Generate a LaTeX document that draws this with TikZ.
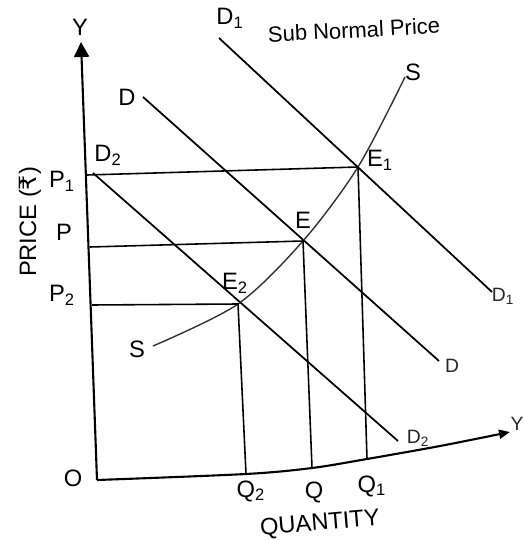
\documentclass[tikz,border=0pt]{standalone}
\usepackage{fontspec}
\setmainfont{Liberation Sans}
\newfontfamily\rupeefont{DejaVu Sans}
\usetikzlibrary{arrows.meta}

\tikzset{
  axisline/.style={line width=1.2pt},
  demandline/.style={line width=1pt},
  guideline/.style={line width=0.9pt},
  supplyline/.style={line width=0.8pt, black!80},
  lbl/.style={font=\fontsize{13.5}{15}\selectfont, inner sep=1pt},
  endlbl/.style={font=\fontsize{11}{13}\selectfont, inner sep=1pt, black!85},
}

\begin{document}
\begin{tikzpicture}[x=0.02cm, y=-0.02cm]
    \useasboundingbox (0,0) rectangle (523,540);

    % Points
    \coordinate (O) at (97,480);
    \coordinate (ytop) at (81,42);
    \coordinate (Q2) at (246,474);
    \coordinate (Q) at (312,468);
    \coordinate (Q1) at (367,459);
    \coordinate (xend) at (510,432);
    \coordinate (P1) at (87,175);
    \coordinate (P) at (90,247);
    \coordinate (P2) at (92,305);
    \coordinate (E1) at (358,167);
    \coordinate (E) at (303,241);
    \coordinate (E2) at (238,304);
    \coordinate (sLow) at (153,346);
    \coordinate (sHigh) at (405,77);
    \coordinate (d1Top) at (219,38);
    \coordinate (d1Bot) at (492,292);
    \coordinate (dTop) at (143,97);
    \coordinate (dBot) at (439,361);
    \coordinate (d2Top) at (93,173);
    \coordinate (d2Bot) at (398,441);

    % Axes
    \draw[axisline, -{Triangle[length=0.3cm, width=0.3cm]}] (O) -- (ytop);
    \draw[axisline, -{Triangle[length=0.22cm, width=0.18cm]}] plot[smooth] coordinates {(O) (Q2) (Q) (Q1) (440,446) (xend)};

    % Demand curves
    \draw[demandline] (d1Top) -- (d1Bot);
    \draw[demandline] (dTop) -- (dBot);
    \draw[demandline] (d2Top) -- (d2Bot);

    % Supply curve
    \draw[supplyline] plot[smooth] coordinates {(sLow) (E2) (E) (E1) (sHigh)};

    % Price and quantity lines
    \draw[guideline] (P1) -- (E1) -- (Q1);
    \draw[guideline] (P) -- (E) -- (Q);
    \draw[guideline] (P2) -- (E2) -- (Q2);

    % Labels
    \node[lbl] (lblY) at (80,27) {Y};
    \node[endlbl] (lblX) at (517,424) {Y};
    \node[lbl] (lblO) at (73,478) {O};
    \node[lbl] (lblP1) at (62,181) {P\textsubscript{1}};
    \node[lbl] (lblP) at (64,232) {P};
    \node[lbl] (lblP2) at (62,295) {P\textsubscript{2}};
    \node[lbl] (lblQ2) at (251,491) {Q\textsubscript{2}};
    \node[lbl] (lblQ) at (314,492) {Q};
    \node[lbl] (lblQ1) at (372,486) {Q\textsubscript{1}};
    \node[lbl] (lblE1) at (380,160) {E\textsubscript{1}};
    \node[lbl] (lblE) at (303,220) {E};
    \node[lbl] (lblE2) at (235,283) {E\textsubscript{2}};
    \node[lbl] (lblS1) at (137,349) {S};
    \node[lbl] (lblS2) at (413,72) {S};
    \node[lbl] (lblD1) at (230,18) {D\textsubscript{1}};
    \node[lbl] (lblD) at (127,97) {D};
    \node[lbl] (lblD2) at (108,155) {D\textsubscript{2}};
    \node[endlbl] (lblD1b) at (503,296) {D\textsubscript{1}};
    \node[endlbl] (lblDb) at (452,366) {D};
    \node[endlbl] (lblD2b) at (418,438) {D\textsubscript{2}};
    \node[lbl, rotate=90] (lblPrice) at (30,222) {PRICE ({\rupeefont ₹})};
    \node[lbl, rotate=5] (lblQty) at (320,524) {QUANTITY};
    \node[font=\fontsize{12.5}{14}\selectfont, inner sep=1pt, rotate=3] (lblTitle) at (354,30) {Sub Normal Price};
\end{tikzpicture}
\end{document}
